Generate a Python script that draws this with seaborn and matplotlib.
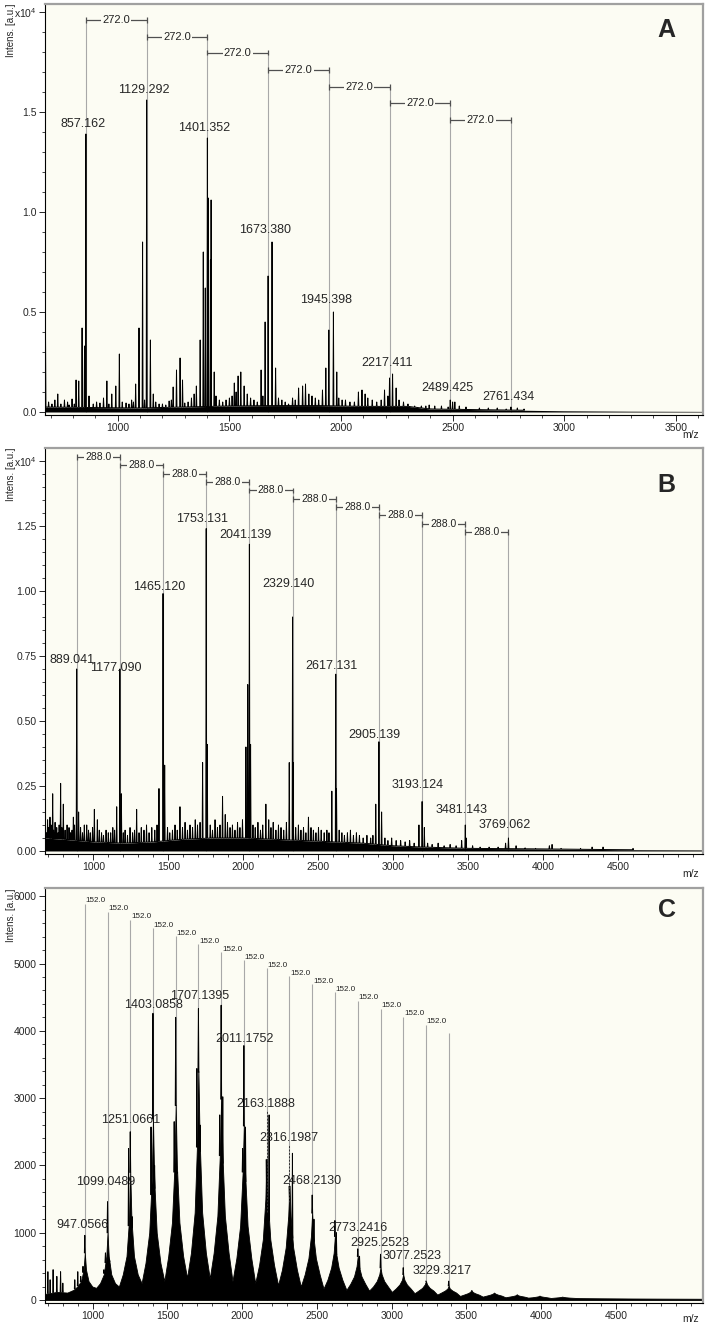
import numpy as np
import pandas as pd
import matplotlib
matplotlib.use("Agg")
import matplotlib.pyplot as plt
import seaborn as sns

sns.set_style("ticks")
plt.rcParams['font.family'] = ['Liberation Sans', 'DejaVu Sans']
plt.rcParams['mathtext.default'] = 'regular'

# =============================================================================
# Data
# =============================================================================

# ---- panel A (intensity in units of 10^4)
a_series = [857.162, 1129.292, 1401.352, 1673.380, 1945.398, 2217.411, 2489.425, 2761.434]
a_series_int = [1.39, 1.56, 1.37, 0.68, 0.41, 0.17, 0.06, 0.025]
a_label_h = [1.405, 1.575, 1.385, 0.877, 0.527, 0.21, 0.085, 0.04]
a_bracket_h = [1.96, 1.876, 1.797, 1.71, 1.626, 1.545, 1.46]
a_delta = "272.0"

a_peak_mz = [676, 731, 761, 795, 813, 825, 840, 851, 871, 936,
             951, 973, 991, 1007, 1037, 1080, 1095, 1111, 1146, 1159,
             1230, 1248, 1263, 1279, 1290, 1352, 1369, 1383, 1392, 1405,
             1415, 1418, 1432, 1522, 1539, 1551, 1566, 1642, 1660, 1691,
             1707, 1783, 1810, 1828, 1841, 1856, 1917, 1932, 1966, 1981,
             2078, 2094, 2108, 2195, 2231, 2247, 2380, 2500, 2510, 2660, 2790]
a_peak_int = [0.40, 0.09, 0.06, 0.065, 0.16, 0.155, 0.42, 0.33, 0.08, 0.07,
              0.155, 0.09, 0.13, 0.29, 0.045, 0.14, 0.42, 0.85, 0.36, 0.09,
              0.055, 0.125, 0.21, 0.27, 0.16, 0.13, 0.36, 0.80, 0.62, 1.07,
              0.76, 1.06, 0.20, 0.145, 0.18, 0.20, 0.13, 0.21, 0.45, 0.85,
              0.22, 0.07, 0.12, 0.13, 0.14, 0.09, 0.11, 0.22, 0.50, 0.20,
              0.10, 0.11, 0.09, 0.11, 0.19, 0.12, 0.03, 0.05, 0.05, 0.02, 0.02]

a_noise_mz = [690, 705, 718, 745, 775, 782, 805, 890, 905, 920,
              960, 1020, 1050, 1062, 1070, 1120, 1170, 1185, 1200, 1215,
              1240, 1300, 1315, 1330, 1342, 1440, 1455, 1470, 1485, 1500,
              1512, 1530, 1580, 1595, 1610, 1625, 1650, 1720, 1735, 1750,
              1765, 1795, 1870, 1885, 1900, 1990, 2005, 2020, 2040, 2060,
              2120, 2140, 2160, 2180, 2210, 2260, 2280, 2300, 2330, 2360,
              2395, 2420, 2450, 2480, 2530, 2560, 2620, 2700, 2740, 2820]
a_noise_int = [0.05, 0.04, 0.06, 0.04, 0.05, 0.035, 0.04, 0.04, 0.05, 0.045,
               0.04, 0.05, 0.04, 0.06, 0.05, 0.06, 0.05, 0.04, 0.04, 0.035,
               0.06, 0.045, 0.05, 0.07, 0.09, 0.08, 0.06, 0.05, 0.06, 0.07,
               0.08, 0.10, 0.09, 0.07, 0.06, 0.05, 0.08, 0.07, 0.06, 0.05,
               0.04, 0.06, 0.08, 0.07, 0.06, 0.07, 0.06, 0.06, 0.05, 0.05,
               0.07, 0.06, 0.05, 0.06, 0.08, 0.06, 0.05, 0.04, 0.03, 0.03,
               0.035, 0.03, 0.03, 0.025, 0.03, 0.025, 0.02, 0.02, 0.015, 0.015]

a_base_mz = [674, 900, 1100, 1300, 1500, 1700, 1900, 2100, 2300, 2400, 2600, 2800, 3000, 3300, 3622]
a_base_int = [0.025, 0.022, 0.02, 0.025, 0.03, 0.032, 0.032, 0.028, 0.028, 0.015, 0.012, 0.009, 0.006, 0.004, 0.003]

# ---- panel B (intensity in units of 10^4)
b_series = [889.041, 1177.090, 1465.120, 1753.131, 2041.139, 2329.140,
            2617.131, 2905.139, 3193.124, 3481.143, 3769.062]
b_series_int = [0.70, 0.70, 0.99, 1.24, 1.18, 0.90, 0.68, 0.42, 0.19, 0.10, 0.05]
b_label_h = [0.71, 0.677, 0.99, 1.25, 1.19, 1.00, 0.685, 0.42, 0.227, 0.13, 0.073]
b_bracket_h = [1.515, 1.483, 1.451, 1.419, 1.387, 1.355, 1.323, 1.291, 1.259, 1.227]
b_delta = "288.0"

b_peak_mz = [689, 711, 729, 756, 782, 800, 867, 902, 956, 1007,
             1027, 1116, 1156, 1187, 1289, 1438, 1476, 1578, 1729, 1760,
             1862, 1880, 2018, 2030, 2049, 2151, 2307, 2333, 2435, 2591,
             2622, 2884, 2923, 3172, 3208, 3457, 3487, 3750, 4042, 4327]
b_peak_int = [0.07, 0.13, 0.22, 0.09, 0.26, 0.18, 0.13, 0.15, 0.10, 0.16,
              0.12, 0.07, 0.17, 0.22, 0.16, 0.24, 0.33, 0.17, 0.34, 0.41,
              0.21, 0.14, 0.40, 0.64, 0.41, 0.18, 0.34, 0.34, 0.13, 0.23,
              0.24, 0.18, 0.15, 0.10, 0.09, 0.04, 0.05, 0.03, 0.02, 0.015]

b_noise_mz = [695, 703, 718, 735, 745, 765, 772, 790, 812, 825,
              838, 848, 858, 875, 915, 928, 940, 968, 980, 995,
              1040, 1055, 1068, 1085, 1100, 1130, 1142, 1200, 1212, 1228,
              1245, 1262, 1275, 1305, 1320, 1338, 1355, 1372, 1390, 1410,
              1425, 1495, 1510, 1528, 1545, 1560, 1595, 1612, 1628, 1645,
              1662, 1680, 1695, 1712, 1780, 1795, 1812, 1828, 1845, 1895,
              1912, 1928, 1945, 1962, 1978, 1995, 2065, 2080, 2098, 2115,
              2130, 2170, 2185, 2200, 2218, 2235, 2252, 2270, 2288, 2350,
              2368, 2385, 2402, 2418, 2452, 2468, 2485, 2502, 2520, 2540,
              2558, 2572, 2640, 2658, 2675, 2695, 2715, 2735, 2755, 2775,
              2800, 2825, 2850, 2865, 2945, 2965, 2990, 3020, 3050, 3080,
              3110, 3140, 3230, 3260, 3300, 3340, 3380, 3420, 3530, 3580,
              3640, 3700, 3820, 3880, 3950, 4060, 4120, 4250, 4400, 4600]
b_noise_int = [0.12, 0.09, 0.10, 0.08, 0.11, 0.07, 0.10, 0.09, 0.08, 0.10,
               0.09, 0.07, 0.08, 0.10, 0.09, 0.07, 0.10, 0.08, 0.07, 0.09,
               0.08, 0.07, 0.06, 0.08, 0.07, 0.09, 0.08, 0.07, 0.08, 0.06,
               0.09, 0.07, 0.08, 0.07, 0.09, 0.08, 0.10, 0.07, 0.09, 0.08,
               0.10, 0.09, 0.07, 0.08, 0.10, 0.08, 0.09, 0.11, 0.08, 0.10,
               0.09, 0.12, 0.10, 0.11, 0.10, 0.08, 0.12, 0.09, 0.10, 0.11,
               0.09, 0.10, 0.08, 0.11, 0.09, 0.12, 0.10, 0.09, 0.11, 0.08,
               0.10, 0.12, 0.09, 0.11, 0.08, 0.10, 0.09, 0.08, 0.11, 0.09,
               0.10, 0.08, 0.09, 0.07, 0.09, 0.08, 0.07, 0.09, 0.08, 0.07,
               0.08, 0.07, 0.08, 0.07, 0.06, 0.07, 0.08, 0.06, 0.07, 0.06,
               0.05, 0.06, 0.05, 0.06, 0.05, 0.04, 0.05, 0.04, 0.04, 0.035,
               0.04, 0.03, 0.03, 0.025, 0.03, 0.02, 0.025, 0.02, 0.02, 0.015,
               0.015, 0.015, 0.02, 0.012, 0.01, 0.025, 0.01, 0.01, 0.015, 0.01]

b_base_mz = [678, 800, 1000, 1200, 1400, 1600, 1800, 2000, 2200, 2400, 2600, 2800, 3000, 3200, 3500, 4000, 4500, 5067]
b_base_int = [0.05, 0.045, 0.035, 0.03, 0.035, 0.045, 0.05, 0.05, 0.045, 0.04, 0.035, 0.03, 0.02, 0.015, 0.01, 0.008, 0.005, 0.004]

# ---- panel C (intensity in a.u.)
c_series = [947.0566, 1099.0489, 1251.0661, 1403.0858, 1555.10, 1707.1395, 1859.16,
            2011.1752, 2163.1888, 2316.1987, 2468.2130, 2620.23, 2773.2416,
            2925.2523, 3077.2523, 3229.3217, 3381.33]
c_series_int = [960, 1460, 2500, 4260, 4200, 4330, 4380, 3780, 1300, 1450,
                1560, 1180, 760, 680, 480, 280, 280]
c_labelled = [True, True, True, True, False, True, False, True, True, True,
              True, False, True, True, True, True, False]
c_label_h = [1005, 1650, 2570, 4280, 4410, 3780, 2810, 2300, 1667, 970, 740, 542, 323]
c_label_dx = [-16, -9, 0, 4, 8, 5, -4, -4, -2, 3, -5, 60, 110]
c_line_top = [5890, 5770, 5650, 5530, 5410, 5290, 5170, 5050, 4930, 4810,
              4690, 4570, 4450, 4330, 4210, 4090, 3970]
c_delta = "152.0"

c_peak_mz = [700, 715, 735, 760, 785, 800, 880, 900, 920, 935,
             1075, 1085, 1112, 1240, 1263, 1390, 1414, 1545, 1565, 1697,
             1718, 1850, 1870, 2003, 2022, 2180, 2336, 2480, 2630, 2785]
c_peak_int = [420, 300, 450, 350, 420, 250, 300, 420, 350, 500,
              450, 700, 600, 2250, 1240, 2570, 2000, 2650, 1880, 3440,
              2600, 2750, 3020, 2250, 2570, 2750, 2180, 1200, 1000, 650]

# broad envelope under each oligomer: valley, wing, mid, shoulder, top
c_hump_mz = [947, 1099, 1251, 1403, 1555, 1707, 1859, 2011, 2163, 2316, 2468,
             2620, 2773, 2925, 3077, 3229, 3381, 3533, 3685, 3837, 3989, 4141]
c_hump_valley = [150, 180, 200, 250, 280, 330, 320, 280, 250, 220, 200,
                 170, 150, 140, 120, 100, 80, 60, 50, 40, 35, 30]
c_hump_wing = [200, 250, 380, 550, 650, 700, 700, 620, 520, 450, 380,
               300, 240, 200, 170, 140, 110, 80, 65, 50, 40, 35]
c_hump_mid = [280, 380, 650, 1000, 1150, 1300, 1250, 1100, 900, 780, 620,
              480, 350, 280, 230, 180, 140, 100, 80, 60, 48, 40]
c_hump_shoulder = [450, 650, 1200, 1800, 2000, 2400, 2200, 1900, 1500, 1250, 950,
                   700, 500, 380, 300, 230, 170, 120, 95, 70, 55, 45]
c_hump_top = [700, 1000, 1900, 2700, 2900, 3400, 3000, 2600, 2100, 1700, 1300,
              950, 650, 480, 380, 280, 210, 150, 110, 85, 65, 50]
c_lead_mz = [681, 760, 830]
c_lead_int = [90, 120, 110]
c_tail_mz = [4250, 4400, 4600, 4800, 5083]
c_tail_int = [28, 25, 22, 20, 18]

# =============================================================================
# Helpers
# =============================================================================
BG = '#fcfcf3'
GRAY = '#a8a8a8'
BRK = '#505050'


def stick_frame(mz, inten, base_mz, base_int, hw, separate):
    mz = np.asarray(mz, float)
    inten = np.asarray(inten, float)
    order = np.argsort(mz)
    mz, inten = mz[order], inten[order]
    base = np.interp(mz, base_mz, base_int)
    xs = np.column_stack([mz - hw, mz, mz + hw]).ravel()
    ys = np.column_stack([base, inten, base]).ravel()
    if separate:
        units = np.repeat(np.arange(len(mz)), 3)
    else:
        units = np.zeros(len(xs), int)
    return pd.DataFrame({'mz': xs, 'inten': ys, 'stick': units})


def draw_spectrum(ax, df):
    sns.lineplot(data=df, x='mz', y='inten', units='stick', estimator=None, sort=False,
                 ax=ax, color='black', linewidth=0.7, legend=False, zorder=2)


def style_axes(ax, xlim, ylim, xmajor, xminor, ymajor, ylabels, yminor, letter, mz_off):
    ax.set_facecolor(BG)
    ax.set_xlim(*xlim)
    ax.set_ylim(*ylim)
    ax.set_xticks(xmajor)
    ax.set_xticklabels([str(v) for v in xmajor])
    ax.set_xticks(xminor, minor=True)
    ax.set_yticks(ymajor)
    ax.set_yticklabels(ylabels)
    ax.set_yticks(yminor, minor=True)
    ax.set_xlabel('')
    ax.set_ylabel('')
    for side in ['left', 'bottom']:
        ax.spines[side].set_color('black')
        ax.spines[side].set_linewidth(0.8)
    for side in ['top', 'right']:
        ax.spines[side].set_visible(True)
        ax.spines[side].set_color('#a0a0a0')
        ax.spines[side].set_linewidth(1.6)
    ax.tick_params(which='major', length=4, width=0.7, labelsize=7.5, pad=2)
    ax.tick_params(which='minor', length=2.2, width=0.6)
    ax.text(-0.052, 1.0, 'Intens. [a.u.]', rotation=90, transform=ax.transAxes,
            ha='center', va='top', fontsize=7)
    ax.annotate('m/z', xy=(1, 0), xycoords='axes fraction', xytext=(-3, mz_off),
                textcoords='offset points', ha='right', va='top', fontsize=7.5)
    ax.text(0.945, letter[1], letter[0], transform=ax.transAxes, fontsize=18,
            fontweight='bold', ha='center', va='center')


def draw_brackets(ax, series, heights, text, tick_h, fs):
    tops = [heights[0]] + list(heights)
    ax.vlines(series, 0, tops, colors=GRAY, lw=0.8, zorder=1)
    for k, h in enumerate(heights):
        x0, x1 = series[k], series[k + 1]
        ax.hlines(h, x0, x1, colors=BRK, lw=0.9, zorder=3)
        ax.vlines([x0, x1], h - tick_h, h + tick_h, colors=BRK, lw=0.9, zorder=3)
        ax.text((x0 + x1) / 2, h, text, ha='center', va='center', fontsize=fs,
                color='#222222', zorder=4,
                bbox=dict(boxstyle='square,pad=0.12', fc=BG, ec='none'))


def draw_labels(ax, xs, hs, fs, dx_pts=-2):
    for x, h in zip(xs, hs):
        ax.annotate(f"{x:.3f}", xy=(x, h), xytext=(dx_pts, 0.5), textcoords='offset points',
                    ha='center', va='bottom', fontsize=fs, zorder=5)


fig = plt.figure(figsize=(7.07, 13.25), dpi=100)
fig.patch.set_facecolor('white')
axA = fig.add_axes([0.0637, 0.6868, 0.9307, 0.3102])
axB = fig.add_axes([0.0637, 0.3555, 0.9307, 0.3064])
axC = fig.add_axes([0.0637, 0.0166, 0.9307, 0.3132])

# =============================================================================
# Panel A
# =============================================================================
ax = axA
draw_brackets(ax, a_series, a_bracket_h, a_delta, 0.014, 8)
ax.fill_between(a_base_mz, 0, a_base_int, color='black', lw=0, zorder=2)
draw_spectrum(ax, stick_frame(a_series + a_peak_mz + a_noise_mz,
                              a_series_int + a_peak_int + a_noise_int,
                              a_base_mz, a_base_int, 2.0, False))
draw_labels(ax, a_series, a_label_h, 9)
style_axes(ax, (674, 3622), (-0.015, 2.04),
           list(range(1000, 3501, 500)), np.arange(700, 3622, 100),
           [0.0, 0.5, 1.0, 1.5, 2.0], ['0.0', '0.5', '1.0', '1.5', r'x10$^4$'],
           np.arange(0, 2.04, 0.1), ('A', 0.937), -11)

# =============================================================================
# Panel B
# =============================================================================
ax = axB
draw_brackets(ax, b_series, b_bracket_h, b_delta, 0.011, 7.5)
ax.fill_between(b_base_mz, 0, b_base_int, color='black', lw=0, zorder=2)
draw_spectrum(ax, stick_frame(b_series + b_peak_mz + b_noise_mz,
                              b_series_int + b_peak_int + b_noise_int,
                              b_base_mz, b_base_int, 3.0, False))
draw_labels(ax, b_series, b_label_h, 9, dx_pts=-3)
style_axes(ax, (678, 5067), (-0.0115, 1.55),
           list(range(1000, 4501, 500)), np.arange(700, 5067, 100),
           [0.0, 0.25, 0.5, 0.75, 1.0, 1.25, 1.5],
           ['0.00', '0.25', '0.50', '0.75', '1.00', '1.25', r'x10$^4$'],
           np.arange(0, 1.55, 0.05), ('B', 0.91), -11)

# =============================================================================
# Panel C
# =============================================================================
ax = axC
ax.vlines(c_series, 0, c_line_top, colors=GRAY, lw=0.8, zorder=1)
for x, h in zip(c_series[:-1], c_line_top[:-1]):
    ax.annotate(c_delta, xy=(x, h), xytext=(0.6, -0.5), textcoords='offset points',
                ha='left', va='bottom', fontsize=5.8, color='#222222', zorder=4)

env_x, env_y = list(c_lead_mz), list(c_lead_int)
for c, v, w, m, s, t in zip(c_hump_mz, c_hump_valley, c_hump_wing,
                            c_hump_mid, c_hump_shoulder, c_hump_top):
    env_x += [c - 76, c - 50, c - 25, c - 8, c, c + 8, c + 25, c + 50]
    env_y += [v, w, m, s, t, s, m, w]
env_x += c_tail_mz
env_y += c_tail_int
ax.fill_between(env_x, 0, env_y, color='black', lw=0.6, edgecolor='black', zorder=2)

draw_spectrum(ax, stick_frame(c_series + c_peak_mz, c_series_int + c_peak_int,
                              env_x, env_y, 3.0, True))

lab_mz = [m for m, f in zip(c_series, c_labelled) if f]
lab_int = [v for v, f in zip(c_series_int, c_labelled) if f]
for m, v, h, dx in zip(lab_mz, lab_int, c_label_h, c_label_dx):
    ax.text(m + dx, h + 15, f"{m:.4f}", ha='center', va='bottom', fontsize=9, zorder=5)
    if h - v > 500:
        ax.vlines(m, v, h, colors='#333333', lw=0.7, linestyles=(0, (2, 1.5)), zorder=3)

style_axes(ax, (681, 5083), (-45, 6122),
           list(range(1000, 4501, 500)), np.arange(700, 5083, 100),
           list(range(0, 6001, 1000)), [str(v) for v in range(0, 6001, 1000)],
           np.arange(0, 6122, 200), ('C', 0.947), -8)

fig.savefig('out.png', dpi=100, facecolor='white')
